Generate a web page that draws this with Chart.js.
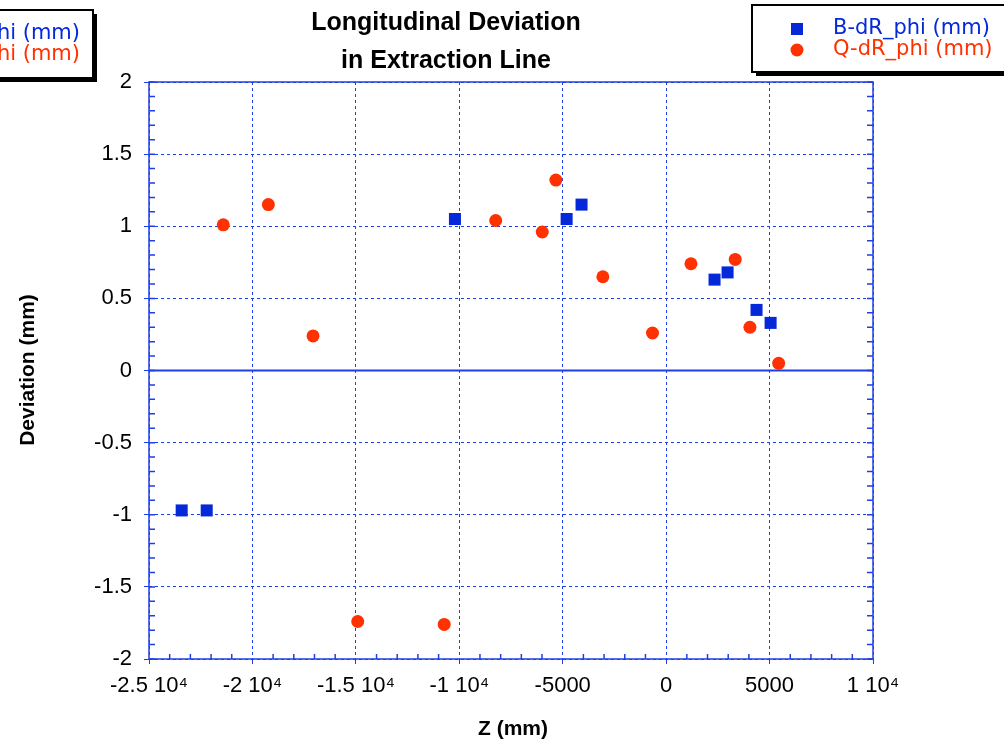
<!DOCTYPE html>
<html>
<head>
<meta charset="utf-8">
<script src="https://cdn.jsdelivr.net/npm/chart.js@4"></script>
<style>
  html, body { margin: 0; padding: 0; background: #fff; overflow: hidden; }
</style>
</head>
<body>
<canvas id="myChart" width="1004" height="746"></canvas>
<script>
// data
const bZ = [-23420, -22210, -10210, -4810, -4090, 2340, 2970, 4370, 5050];
const bDev = [-0.97, -0.97, 1.05, 1.05, 1.15, 0.63, 0.68, 0.42, 0.33];
const qZ = [-21410, -19230, -17070, -14910, -10730, -8240, -5330, -5990, -3060, -660, 1200, 3340, 4050, 5440];
const qDev = [1.01, 1.15, 0.24, -1.74, -1.76, 1.04, 1.32, 0.96, 0.65, 0.26, 0.74, 0.77, 0.3, 0.05];
const xTickValues = [-25000, -20000, -15000, -10000, -5000, 0, 5000, 10000];
const xTickLabels = ["-2.5 10\u2074", "-2 10\u2074", "-1.5 10\u2074", "-1 10\u2074", "-5000", "0", "5000", "1 10\u2074"];
const yTickValues = [-2, -1.5, -1, -0.5, 0, 0.5, 1, 1.5, 2];
const yTickLabels = ["-2", "-1.5", "-1", "-0.5", "0", "0.5", "1", "1.5", "2"];
const seriesNames = ["B-dR_phi (mm)", "Q-dR_phi (mm)"];
const titleLines = ["Longitudinal Deviation", "in Extraction Line"];

const BLUE = "#0529d9";
const RED = "#ff3100";
const GRID = "#1f3fe6";
const TICK_FONT = "'Liberation Sans Narrow', 'Liberation Sans', sans-serif";

// frame, zero line, minor ticks, titles and the two legend boxes
const decor = {
  id: "decor",
  beforeDatasetsDraw(chart) {
    const { ctx, chartArea: a, scales: { x, y } } = chart;
    ctx.save();
    // zero line
    ctx.strokeStyle = GRID;
    ctx.lineWidth = 2;
    const y0 = y.getPixelForValue(0);
    ctx.beginPath();
    ctx.moveTo(a.left, y0);
    ctx.lineTo(a.right, y0);
    ctx.stroke();
    // minor ticks
    ctx.lineWidth = 1.5;
    for (let v = -25000; v <= 10000; v += 1000) {
      const px = x.getPixelForValue(v);
      const len = v % 5000 === 0 ? 0 : 5;
      ctx.beginPath();
      ctx.moveTo(px, a.bottom);
      ctx.lineTo(px, a.bottom - len);
      ctx.stroke();
    }
    for (let i = -20; i <= 20; i++) {
      const py = y.getPixelForValue(i / 10);
      ctx.beginPath();
      ctx.moveTo(a.left, py);
      ctx.lineTo(a.left + 6, py);
      ctx.moveTo(a.right, py);
      ctx.lineTo(a.right - 6, py);
      ctx.stroke();
    }
    // frame
    ctx.lineWidth = 1.5;
    ctx.strokeRect(a.left, a.top, a.right - a.left, a.bottom - a.top);
    ctx.restore();
  },
  afterDraw(chart) {
    const { ctx } = chart;
    ctx.save();
    ctx.fillStyle = "#000";
    ctx.textAlign = "center";
    ctx.textBaseline = "middle";
    ctx.font = "bold 25px 'Liberation Sans', sans-serif";
    ctx.fillText(titleLines[0], 446, 23);
    ctx.fillText(titleLines[1], 446, 61);

    ctx.font = "bold 21px 'Liberation Sans', sans-serif";
    ctx.fillText("Z (mm)", 513, 729);
    ctx.translate(28, 370);
    ctx.rotate(-Math.PI / 2);
    ctx.fillText("Deviation (mm)", 0, 0);
    ctx.restore();

    // legend boxes
    drawLegendBox(ctx, 752, 5, 270, 67, 833, "left", true);
    drawLegendBox(ctx, -20, 10, 113, 68, 80, "right", false);
  },
};

function drawLegendBox(ctx, bx, by, bw, bh, textX, align, markers) {
  ctx.save();
  ctx.fillStyle = "#000";
  ctx.fillRect(bx + 4, by + 4, bw, bh);
  ctx.fillStyle = "#fff";
  ctx.fillRect(bx, by, bw, bh);
  ctx.strokeStyle = "#000";
  ctx.lineWidth = 2;
  ctx.strokeRect(bx, by, bw, bh);
  ctx.font = "21px 'DejaVu Sans', sans-serif";
  ctx.textAlign = align;
  ctx.textBaseline = "middle";
  const rows = [by + 24, by + 45];
  ctx.fillStyle = BLUE;
  ctx.fillText(seriesNames[0], textX, rows[0]);
  ctx.fillStyle = RED;
  ctx.fillText(seriesNames[1], textX, rows[1]);
  if (markers) {
    ctx.fillStyle = BLUE;
    ctx.fillRect(791, rows[0] - 6, 12, 12);
    ctx.fillStyle = RED;
    ctx.beginPath();
    ctx.arc(797, rows[1], 6.5, 0, Math.PI * 2);
    ctx.fill();
  }
  ctx.restore();
}

const ctx = document.getElementById("myChart").getContext("2d");
new Chart(ctx, {
  type: "scatter",
  data: {
    datasets: [
      {
        label: seriesNames[0],
        data: bZ.map((z, i) => ({ x: z, y: bDev[i] })),
        pointStyle: "rect",
        pointRadius: 8.5,
        backgroundColor: BLUE,
        borderColor: BLUE,
        borderWidth: 0,
      },
      {
        label: seriesNames[1],
        data: qZ.map((z, i) => ({ x: z, y: qDev[i] })),
        pointStyle: "circle",
        pointRadius: 6.5,
        backgroundColor: RED,
        borderColor: RED,
        borderWidth: 0,
      },
    ],
  },
  options: {
    responsive: false,
    animation: false,
    devicePixelRatio: 1,
    layout: { padding: { left: 0, right: 131, top: 82, bottom: 0 } },
    plugins: {
      legend: { display: false },
      title: { display: false },
      tooltip: { enabled: false },
    },
    scales: {
      x: {
        type: "linear",
        min: -25000,
        max: 10000,
        afterFit: (scale) => { scale.height = 87; },
        afterBuildTicks: (scale) => { scale.ticks = xTickValues.map((v) => ({ value: v })); },
        ticks: {
          autoSkip: false,
          maxRotation: 0,
          padding: 9,
          color: "#000",
          font: { family: TICK_FONT, size: 22 },
          callback: (v) => xTickLabels[xTickValues.indexOf(v)],
        },
        grid: { color: GRID, lineWidth: 1, drawTicks: true, tickLength: 5 },
        border: { display: false, dash: [3, 3] },
      },
      y: {
        min: -2,
        max: 2,
        afterFit: (scale) => { scale.width = 149; },
        afterBuildTicks: (scale) => { scale.ticks = yTickValues.map((v) => ({ value: v })); },
        ticks: {
          padding: 12,
          color: "#000",
          font: { family: TICK_FONT, size: 22 },
          callback: (v) => yTickLabels[yTickValues.indexOf(v)],
        },
        grid: { color: GRID, lineWidth: 1, drawTicks: true, tickLength: 5 },
        border: { display: false, dash: [3, 3] },
      },
    },
  },
  plugins: [decor],
});
</script>
</body>
</html>
